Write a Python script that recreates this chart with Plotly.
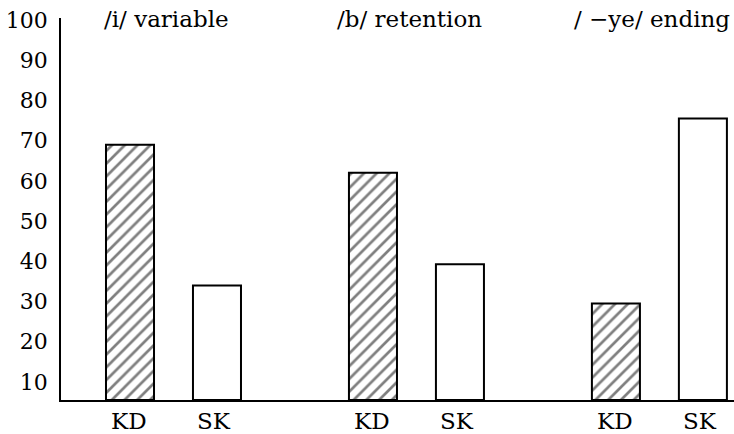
import plotly.graph_objects as go

groups = ["/i/ variable", "/b/ retention", "/ \u2212ye/ ending"]
series_names = ["KD", "SK"]
kd_values = [69, 62, 29.5]
sk_values = [34, 39.3, 75.5]
y_ticks = [10, 20, 30, 40, 50, 60, 70, 80, 90, 100]
y_floor = 5.52

FONT = "DejaVu Serif"

fig = go.Figure()
fig.add_trace(go.Bar(
    x=groups, y=[v - y_floor for v in kd_values], name=series_names[0], base=y_floor,
    marker=dict(color="white", line=dict(color="black", width=2),
                pattern=dict(shape="/", fgcolor="black", bgcolor="white", size=9, solidity=0.3)),
))
fig.add_trace(go.Bar(
    x=groups, y=[v - y_floor for v in sk_values], name=series_names[1], base=y_floor,
    marker=dict(color="white", line=dict(color="black", width=2)),
))

annotations = []
for g in groups:
    annotations.append(dict(x=g, xref="x", y=100.3, yref="y", text=g, showarrow=False,
                            xshift=-7, font=dict(family=FONT, size=23, color="black"),
                            xanchor="center", yanchor="middle"))
    for name, shift in zip(series_names, [-44, 41]):
        annotations.append(dict(x=g, xref="x", y=0, yref="paper", text=name, showarrow=False,
                                xshift=shift, yshift=-6, font=dict(family=FONT, size=23, color="black"),
                                xanchor="center", yanchor="top"))

fig.update_layout(
    width=734, height=434,
    margin=dict(l=61, r=0, t=18, b=34),
    paper_bgcolor="white", plot_bgcolor="white",
    barmode="group", bargap=0.284, bargroupgap=0.448,
    showlegend=False,
    annotations=annotations,
    xaxis=dict(range=[-0.463, 2.307], showticklabels=False, ticks="", showgrid=False,
               zeroline=False, showline=True, linecolor="black", linewidth=2, automargin=False),
    yaxis=dict(range=[y_floor, 100.5], tickvals=y_ticks, showgrid=False, zeroline=False,
               showline=True, linecolor="black", linewidth=1.5, ticks="", ticklabelstandoff=7,
               automargin=False,
               tickfont=dict(family=FONT, size=22, color="black")),
)
fig.write_html("out.html", config={"displayModeBar": False},
               post_script="document.body.style.margin='0';document.body.style.overflow='hidden';")
